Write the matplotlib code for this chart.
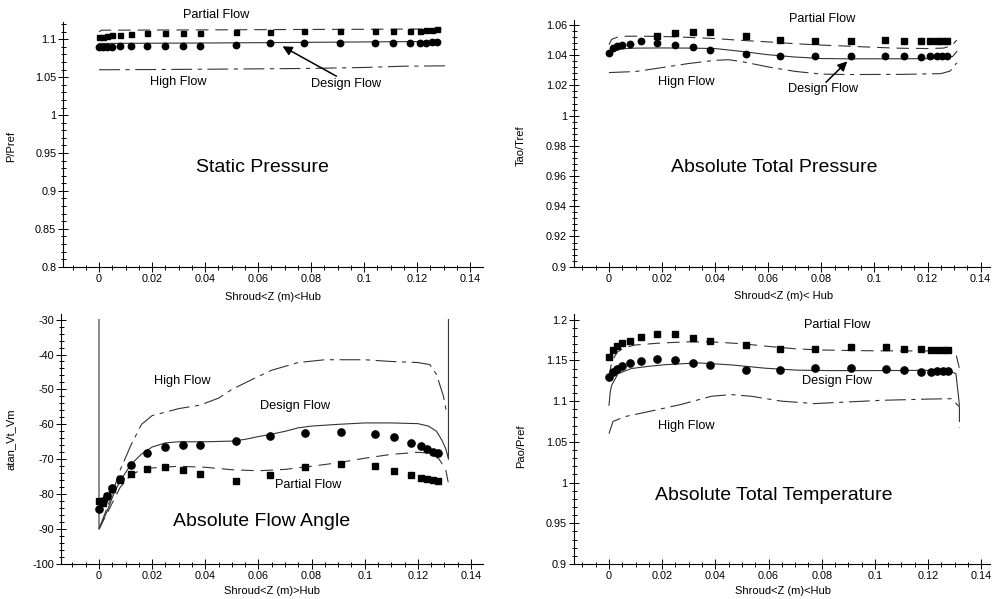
import numpy as np
import matplotlib
matplotlib.use("Agg")
import matplotlib.pyplot as plt
from matplotlib.ticker import MultipleLocator, FuncFormatter

plt.rcParams["font.family"] = ["Liberation Sans", "DejaVu Sans"]
plt.rcParams["lines.scale_dashes"] = False

# ── measurement stations along the passage (m) ────────────────────────────
z_probe = [0, 0.0015, 0.003, 0.005, 0.008, 0.012, 0.018, 0.025, 0.0315, 0.038,
           0.0515, 0.0645, 0.0775, 0.091, 0.104, 0.111, 0.1175, 0.121, 0.1235,
           0.1255, 0.1275]

# ── Static pressure P/Pref ────────────────────────────────────────────────
sp_design_pts  = [1.0902, 1.0902, 1.0902, 1.0902, 1.0905, 1.0908, 1.091, 1.091, 1.091,
                  1.091, 1.093, 1.0945, 1.095, 1.095, 1.0955, 1.0955, 1.0955, 1.0955,
                  1.0955, 1.096, 1.0965]
sp_partial_pts = [1.1035, 1.1035, 1.104, 1.105, 1.106, 1.107, 1.108, 1.108, 1.108,
                  1.108, 1.1095, 1.110, 1.111, 1.111, 1.1115, 1.1115, 1.1115, 1.1115,
                  1.112, 1.1125, 1.113]
sp_design_z   = [0, 0.02, 0.04, 0.06, 0.08, 0.10, 0.12, 0.1285]
sp_design     = [1.0945, 1.0948, 1.0951, 1.0955, 1.0960, 1.0965, 1.0970, 1.0972]
sp_partial_z  = [0, 0.001, 0.02, 0.04, 0.06, 0.08, 0.10, 0.12, 0.131]
sp_partial    = [1.110, 1.112, 1.1122, 1.1124, 1.1127, 1.113, 1.1132, 1.1135, 1.1135]
sp_high_z     = [0, 0.02, 0.04, 0.06, 0.08, 0.10, 0.115, 0.131]
sp_high       = [1.0598, 1.0601, 1.0605, 1.061, 1.0616, 1.0628, 1.0645, 1.065]

# ── Absolute total pressure Tao/Tref ──────────────────────────────────────
tp_design_pts  = [1.0415, 1.0445, 1.046, 1.047, 1.0476, 1.0492, 1.0481, 1.0466, 1.0455,
                  1.0437, 1.041, 1.0397, 1.0397, 1.0397, 1.0397, 1.0393, 1.039, 1.0393,
                  1.0393, 1.0393, 1.0393]
tp_partial_pts = [1.0526, 1.0548, 1.0553, 1.0553, 1.0526, 1.0499, 1.0493, 1.0493,
                  1.0499, 1.0493, 1.0493, 1.0493, 1.0493, 1.0493, 1.0493]
tp_design_z   = [0, 0.002, 0.005, 0.01, 0.02, 0.03, 0.04, 0.05, 0.06, 0.07, 0.08,
                 0.09, 0.10, 0.12, 0.127, 0.1295, 0.131]
tp_design     = [1.0405, 1.0428, 1.0442, 1.0447, 1.0448, 1.0447, 1.0444, 1.0425, 1.0403,
                 1.0388, 1.0378, 1.0376, 1.0376, 1.0377, 1.0379, 1.0392, 1.0425]
tp_partial_z  = [0, 0.001, 0.004, 0.012, 0.025, 0.04, 0.05, 0.06, 0.07, 0.08, 0.09,
                 0.10, 0.11, 0.12, 0.126, 0.129, 0.131]
tp_partial    = [1.047, 1.0505, 1.0525, 1.0526, 1.0522, 1.051, 1.0498, 1.0488, 1.0476,
                 1.0467, 1.046, 1.0452, 1.0446, 1.0444, 1.0447, 1.0462, 1.050]
tp_high_z     = [0, 0.01, 0.02, 0.03, 0.04, 0.045, 0.05, 0.06, 0.07, 0.08, 0.09, 0.11,
                 0.125, 0.1285, 0.131]
tp_high       = [1.0285, 1.0292, 1.0318, 1.0345, 1.0366, 1.037, 1.0358, 1.0322, 1.0293,
                 1.0275, 1.0272, 1.0273, 1.0278, 1.0295, 1.035]

# ── Absolute flow angle atan(Vt/Vm) ───────────────────────────────────────
fa_design_pts  = [-84.2, -81.9, -80.5, -78.3, -75.7, -71.7, -68.3, -66.4, -65.9, -65.9,
                  -64.8, -63.2, -62.5, -62.1, -62.8, -63.7, -65.3, -66.2, -67.0, -67.8,
                  -68.3]
fa_partial_pts = [-82.0, -82.5, -80.5, -78.5, -76.0, -74.2, -72.8, -72.1, -73.1, -74.3,
                  -76.1, -74.5, -72.1, -71.4, -71.9, -73.3, -74.5, -75.3, -75.7, -76.0,
                  -76.3]
fa_design_z   = [0, 0, 0.003, 0.006, 0.009, 0.012, 0.016, 0.02, 0.025, 0.03, 0.04, 0.05,
                 0.055, 0.06, 0.065, 0.07, 0.075, 0.08, 0.09, 0.10, 0.11, 0.12, 0.124,
                 0.127, 0.129, 0.1305, 0.1315, 0.1315]
fa_design     = [-30, -90, -85, -79, -75, -71.5, -68.5, -66.5, -65.3, -65, -65, -64.8,
                 -64.3, -63.5, -62.8, -62, -61, -60.5, -60, -59.6, -59.6, -59.8, -60.5,
                 -62, -64.5, -67, -70, -30]
fa_partial_z  = [0, 0.004, 0.008, 0.012, 0.016, 0.02, 0.03, 0.04, 0.05, 0.06, 0.07,
                 0.08, 0.09, 0.10, 0.11, 0.12, 0.125, 0.128, 0.1305, 0.1315]
fa_partial    = [-90, -84, -78, -74.5, -73, -72.5, -72, -72.3, -73, -73.3, -72.9, -72,
                 -71, -69.7, -68.6, -68, -68.3, -70, -73, -77]
fa_high_z     = [0, 0.004, 0.008, 0.012, 0.016, 0.02, 0.025, 0.03, 0.038, 0.045, 0.05,
                 0.058, 0.065, 0.075, 0.085, 0.10, 0.11, 0.12, 0.1245, 0.127, 0.1296,
                 0.1308]
fa_high       = [-90, -82, -73, -66, -60, -57.5, -56.5, -55.5, -54.5, -52.5, -50, -47,
                 -44.5, -42.3, -41.5, -41.5, -42, -42.3, -42.9, -45.7, -51.9, -56.7]

# ── Absolute total temperature Pao/Pref ───────────────────────────────────
tt_design_pts  = [1.1295, 1.1355, 1.139, 1.1435, 1.1465, 1.1498, 1.1522, 1.1506, 1.1471,
                  1.1442, 1.1384, 1.1384, 1.1401, 1.1409, 1.1398, 1.1385, 1.1363, 1.136,
                  1.1365, 1.137, 1.137]
tt_partial_pts = [1.154, 1.163, 1.168, 1.171, 1.174, 1.179, 1.182, 1.182, 1.178, 1.1743,
                  1.1695, 1.164, 1.1637, 1.166, 1.166, 1.1645, 1.1635, 1.1625, 1.1625,
                  1.1625, 1.1625]
tt_design_z   = [0, 0.0005, 0.001, 0.0034, 0.0084, 0.015, 0.021, 0.0334, 0.046, 0.0585,
                 0.071, 0.0836, 0.10, 0.12, 0.128, 0.1305, 0.1318]
tt_design     = [1.095, 1.112, 1.1195, 1.1337, 1.140, 1.1428, 1.1447, 1.147, 1.1445,
                 1.1405, 1.138, 1.1375, 1.1375, 1.1378, 1.1372, 1.1337, 1.095]
tt_partial_z  = [0, 0.001, 0.003, 0.006, 0.01, 0.02, 0.03, 0.04, 0.05, 0.06, 0.07, 0.08,
                 0.09, 0.10, 0.12, 0.128, 0.1305, 0.1318]
tt_partial    = [1.130, 1.148, 1.160, 1.166, 1.169, 1.1715, 1.1728, 1.1725, 1.1705,
                 1.1672, 1.1643, 1.1628, 1.1622, 1.1618, 1.1616, 1.1614, 1.158, 1.14]
tt_high_z     = [0, 0.0015, 0.006, 0.0147, 0.0272, 0.0385, 0.046, 0.0535, 0.0648,
                 0.0773, 0.0899, 0.1024, 0.12, 0.1287, 0.1318, 0.1318]
tt_high       = [1.06, 1.075, 1.081, 1.087, 1.096, 1.106, 1.108, 1.106, 1.100, 1.097,
                 1.099, 1.101, 1.1025, 1.103, 1.093, 1.067]

W, H = 996, 599
LINE_C = "#333333"
PARTIAL_DASH = (0, (9, 5))
HIGH_DASH = (0, (15, 4, 3, 4))


def px_axes(fig, left, right, top, bottom):
    """add an axes given its box in figure pixels"""
    return fig.add_axes([left / W, 1 - bottom / H, (right - left) / W, (bottom - top) / H])


def style_axes(ax, xlim, ylim, ymajor, yminor, xlabel, ylabel, ylab_xy, xlab_xy):
    ax.set_xlim(*xlim)
    ax.set_ylim(*ylim)
    for s in ("top", "right"):
        ax.spines[s].set_visible(False)
    for s in ("left", "bottom"):
        ax.spines[s].set_linewidth(0.8)
    ax.xaxis.set_major_locator(MultipleLocator(0.02))
    ax.xaxis.set_minor_locator(MultipleLocator(0.005))
    ax.yaxis.set_major_locator(MultipleLocator(ymajor))
    ax.yaxis.set_minor_locator(MultipleLocator(yminor))
    fmt = FuncFormatter(lambda v, p: "%g" % round(v, 6))
    ax.xaxis.set_major_formatter(fmt)
    ax.yaxis.set_major_formatter(fmt)
    ax.tick_params(which="major", direction="inout", length=7, width=0.7,
                   labelsize=7.8, pad=1.5)
    ax.tick_params(which="minor", direction="inout", length=3.6, width=0.7)
    ax.set_xlabel(xlabel, fontsize=8)
    ax.set_ylabel(ylabel, fontsize=8)
    ax.yaxis.set_label_coords(*ylab_xy)
    ax.xaxis.set_label_coords(*xlab_xy)
    ax.patch.set_alpha(0)


def draw_panel(ax, zd, yd, zp, yp, zh, yh, pts_d, pts_p, zp_pts, ms=(4.6, 3.8)):
    ax.plot(zd, yd, color=LINE_C, lw=0.8)
    ax.plot(zp, yp, color=LINE_C, lw=0.8, linestyle=PARTIAL_DASH)
    ax.plot(zh, yh, color=LINE_C, lw=0.8, linestyle=HIGH_DASH)
    ax.plot(z_probe, pts_d, "o", color="black", ms=ms[0], mec="black")
    ax.plot(zp_pts, pts_p, "s", color="black", ms=ms[1], mec="black")


def ftext(x, y, s, size=9.2):
    fig.text(x / W, 1 - y / H, s, fontsize=size, ha="center", va="center")


fig = plt.figure(figsize=(W / 100, H / 100), dpi=100)

# Panel 1 — static pressure
ax1 = px_axes(fig, 63.3, 483, 21.7, 266.7)
style_axes(ax1, (-0.0135, 0.1449), (0.8, 1.1232), 0.05, 0.01,
           "Shroud<Z (m)<Hub", "P/Pref", (-0.113, 0.49), (0.5, -0.105))
draw_panel(ax1, sp_design_z, sp_design, sp_partial_z, sp_partial, sp_high_z, sp_high,
           sp_design_pts, sp_partial_pts, z_probe, ms=(4.6, 3.6))
ax1.annotate("", xy=(0.0683, 1.0925), xytext=(0.0905, 1.0495),
             arrowprops=dict(arrowstyle="-|>", color="black", lw=1.1, mutation_scale=14))

# Panel 2 — absolute total pressure
ax2 = px_axes(fig, 574, 989.7, 20, 266.7)
style_axes(ax2, (-0.01318, 0.1434), (0.9, 1.0633), 0.02, 0.004,
           "Shroud<Z (m)< Hub", "Tao/Tref", (-0.115, 0.49), (0.503, -0.1))
draw_panel(ax2, tp_design_z, tp_design, tp_partial_z, tp_partial, tp_high_z, tp_high,
           tp_design_pts, tp_partial_pts, z_probe[6:], ms=(4.6, 3.8))
ax2.annotate("", xy=(0.0905, 1.0372), xytext=(0.081, 1.0208),
             arrowprops=dict(arrowstyle="-|>", color="black", lw=1.1, mutation_scale=14))

# Panel 3 — absolute flow angle
ax3 = px_axes(fig, 61, 483, 314, 564)
style_axes(ax3, (-0.0143, 0.1445), (-100, -28.4), 10, 2,
           "Shroud<Z (m)>Hub", "atan_Vt_Vm", (-0.107, 0.5), (0.5, -0.09))
draw_panel(ax3, fa_design_z, fa_design, fa_partial_z, fa_partial, fa_high_z, fa_high,
           fa_design_pts, fa_partial_pts, z_probe, ms=(5.2, 4.0))

# Panel 4 — absolute total temperature
ax4 = px_axes(fig, 574, 990, 314, 564)
style_axes(ax4, (-0.01316, 0.1433), (0.9, 1.207), 0.05, 0.01,
           "Shroud<Z (m)<Hub", "Pao/Pref", (-0.115, 0.47), (0.503, -0.09))
draw_panel(ax4, tt_design_z, tt_design, tt_partial_z, tt_partial, tt_high_z, tt_high,
           tt_design_pts, tt_partial_pts, z_probe, ms=(5.2, 4.6))

# curve labels and panel titles
ftext(216, 15, "Partial Flow")
ftext(178, 82, "High Flow")
ftext(346, 84, "Design Flow")
ftext(262, 167, "Static Pressure", 14)

ftext(822, 19, "Partial Flow")
ftext(686, 82, "Hign Flow")
ftext(823, 89, "Design Flow")
ftext(774, 167, "Absolute Total Pressure", 14)

ftext(182, 381, "High Flow")
ftext(295, 406, "Design Flow")
ftext(308, 485, "Partial Flow")
ftext(262, 522, "Absolute Flow Angle", 14)

ftext(837, 325, "Partial Flow")
ftext(837, 381, "Design Flow")
ftext(686, 426, "High Flow")
ftext(774, 495, "Absolute Total Temperature", 14)

fig.savefig("out.png", dpi=100)
